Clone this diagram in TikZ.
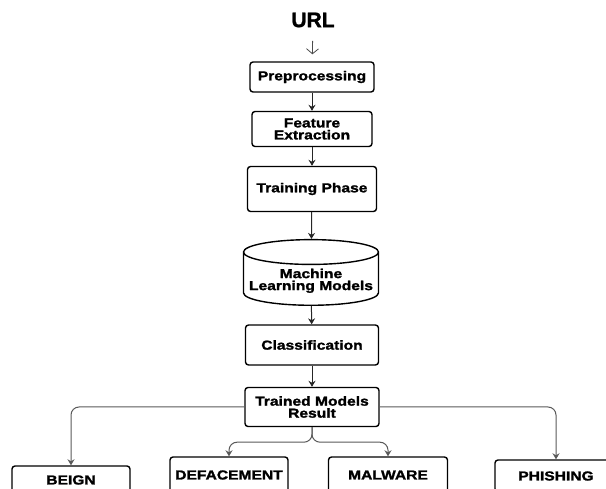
\documentclass[tikz,border=0pt]{standalone}
\usepackage{fontspec}
\setmainfont{Liberation Sans}
\newfontfamily\boxfont[FakeStretch=1.2,FakeBold=1.6]{Liberation Sans}
\newfontfamily\titlefont[FakeBold=1.4]{Liberation Sans}
\usetikzlibrary{arrows.meta,shapes.geometric}

\begin{document}
\begin{tikzpicture}[x=1pt,y=-1pt,
  stage/.style={draw, line width=1.4pt, rounded corners=3pt, align=center,
    inner sep=0pt, font=\boxfont\bfseries\fontsize{13}{12}\selectfont},
  flow/.style={draw=black!85, line width=1pt, -{Stealth[length=6pt,width=7pt]}},
  branch/.style={flow, draw=black!65, rounded corners=8pt}]
\useasboundingbox (0,0) rectangle (606,489);
\clip (0,0) rectangle (606,489);
% input
\node[font=\titlefont\bfseries\fontsize{21}{21}\selectfont] (url) at (313,20) {URL};
% main column
\node[stage, minimum width=124pt, minimum height=30pt] (pre)   at (312,77)  {Preprocessing};
\node[stage, minimum width=120pt, minimum height=35pt] (feat)  at (312,129) {Feature\\Extraction};
\node[stage, minimum width=129pt, minimum height=45pt] (train) at (312,189) {Training Phase};
\node[draw, cylinder, shape border rotate=90, aspect=0.2, line width=1.4pt,
      minimum width=135pt, minimum height=62pt, inner sep=0pt, align=center,
      font=\boxfont\bfseries\fontsize{13}{12}\selectfont] (ml) at (311,279) {\\[1pt]Machine\\Learning Models};
\node[stage, minimum width=133pt, minimum height=40pt] (class) at (312,345) {Classification};
\node[stage, minimum width=134pt, minimum height=39pt] (tmr)   at (312,407) {Trained Models\\Result};
% classes (cut at the lower edge)
\node[stage, minimum width=118pt, minimum height=28pt] (beign) at (71,480)  {BEIGN};
\node[stage, minimum width=118pt, minimum height=36pt] (deface) at (229,475) {DEFACEMENT};
\node[stage, minimum width=119pt, minimum height=36pt] (malw)  at (388,475) {MALWARE};
\node[stage, minimum width=122pt, minimum height=32pt] (phish) at (556,476) {PHISHING};
% arrows
\draw[draw=black!70, line width=0.8pt, -{Straight Barb[length=5pt,width=12pt]},
      shorten <=10pt, shorten >=7pt] (url) -- (pre);
\draw[flow] (pre) -- (feat);
\draw[flow] (feat) -- (train);
\draw[flow] (train) -- (ml);
\draw[flow] (ml) -- (class);
\draw[flow] (class) -- (tmr);
\coordinate (fork) at ([yshift=-15pt]tmr.south);
\draw[branch] (tmr.west) -| (beign.north);
\draw[branch] (tmr.east) -| (phish.north);
\draw[branch] (tmr.south) -- (fork) -| (deface.north);
\draw[branch] (tmr.south) -- (fork) -| (malw.north);
\end{tikzpicture}
\end{document}
